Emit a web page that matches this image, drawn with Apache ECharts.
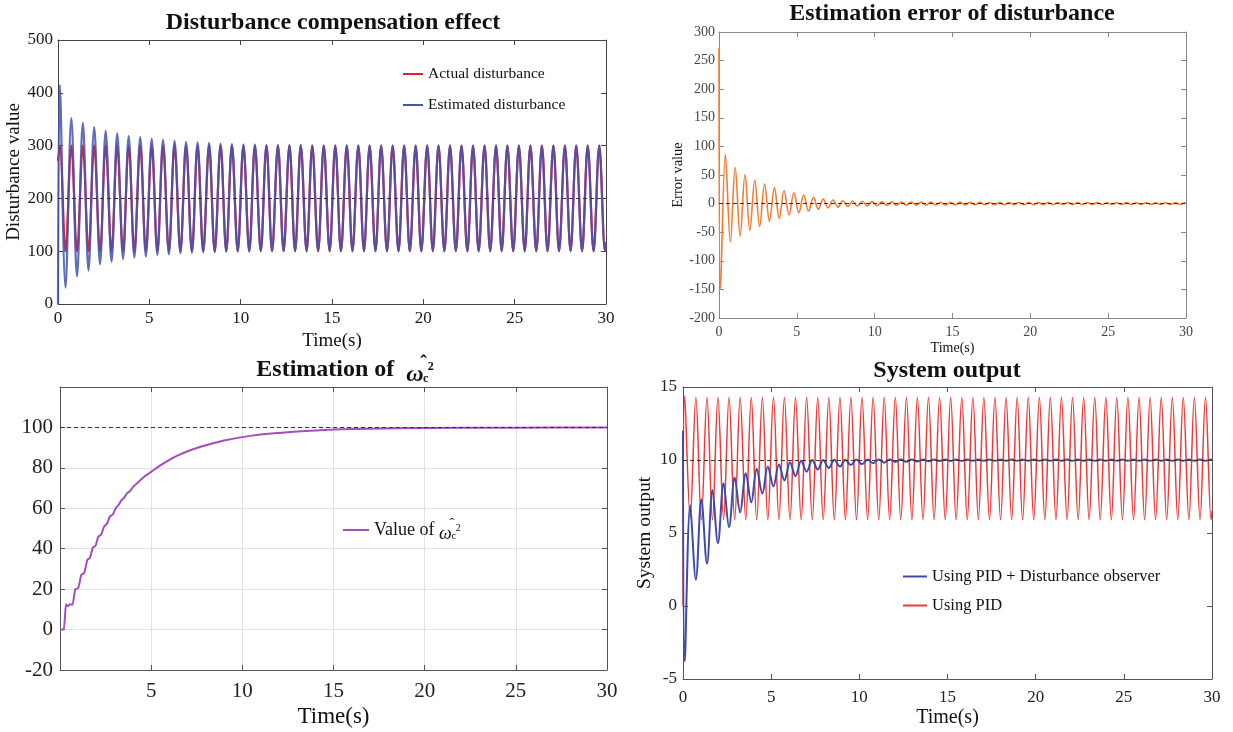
<!DOCTYPE html>
<html>
<head>
<meta charset="utf-8">
<title>Disturbance observer results</title>
<script src="https://cdn.jsdelivr.net/npm/echarts@6/dist/echarts.min.js"></script>
<style>
html, body { margin: 0; padding: 0; background: #fff; }
#main { width: 1233px; height: 732px; }
</style>
</head>
<body>
<div id="main"></div>
<script>
// time (s) of each half-cycle extremum (period ~0.63 s)
var tExtrema = [
    0.10, 0.41, 0.73, 1.04, 1.36, 1.67, 1.98, 2.30, 2.61, 2.93,
    3.24, 3.56, 3.87, 4.18, 4.50, 4.81, 5.13, 5.44, 5.75, 6.07,
    6.38, 6.70, 7.01, 7.33, 7.64, 7.95, 8.27, 8.58, 8.90, 9.21,
    9.52, 9.84, 10.15, 10.47, 10.78, 11.10, 11.41, 11.72, 12.04, 12.35,
    12.67, 12.98, 13.29, 13.61, 13.92, 14.24, 14.55, 14.87, 15.18, 15.49,
    15.81, 16.12, 16.44, 16.75, 17.06, 17.38, 17.69, 18.01, 18.32, 18.64,
    18.95, 19.26, 19.58, 19.89, 20.21, 20.52, 20.83, 21.15, 21.46, 21.78,
    22.09, 22.41, 22.72, 23.03, 23.35, 23.66, 23.98, 24.29, 24.60, 24.92,
    25.23, 25.55, 25.86, 26.18, 26.49, 26.80, 27.12, 27.43, 27.75, 28.06,
    28.37, 28.69, 29.00, 29.32, 29.63, 29.95
];

// Disturbance compensation effect (values at t=0, at each extremum, at t=30)
var actualDisturbance = [
    300, 100, 300, 100, 300, 100, 300, 100, 300, 100,
    300, 100, 300, 100, 300, 100, 300, 100, 300, 100,
    300, 100, 300, 100, 300, 100, 300, 100, 300, 100,
    300, 100, 300, 100, 300, 100, 300, 100, 300, 100,
    300, 100, 300, 100, 300, 100, 300, 100, 300, 100,
    300, 100, 300, 100, 300, 100, 300, 100, 300, 100,
    300, 100, 300, 100, 300, 100, 300, 100, 300, 100,
    300, 100, 300, 100, 300, 100, 300, 100, 300, 100,
    300, 100, 300, 100, 300, 100, 300, 100, 300, 100,
    300, 100, 300, 100, 300, 100
];
var estimatedDisturbance = [
    415, 31, 352, 52, 343, 63, 335, 75, 328, 80,
    323, 85, 318, 88, 316, 90, 313, 93, 311, 94,
    309, 96, 307, 97, 306, 98, 305, 98, 304, 99,
    303, 99, 302, 99, 302, 100, 301, 100, 301, 100,
    301, 100, 301, 100, 300, 100, 300, 100, 300, 100,
    300, 100, 300, 100, 300, 100, 300, 100, 300, 100,
    300, 100, 300, 100, 300, 100, 300, 100, 300, 100,
    300, 100, 300, 100, 300, 100, 300, 100, 300, 100,
    300, 100, 300, 100, 300, 100, 300, 100, 300, 100,
    300, 100, 300, 100, 300, 100
];
var disturbanceStart = [270, 0];
var disturbanceEnd = [115, 118];

// Estimation error of disturbance
var errorValues = [
    -150, 86, -67, 63, -57, 51, -47, 41, -40, 34,
    -31, 28, -26, 23, -20, 19, -16, 15, -13, 11,
    -10, 8, -7.5, 6.4, -6.4, 5, -5, 4.5, -4.5, 4,
    -4, 3.5, -3.5, 3, -3, 3, -3, 2.8, -2.8, 2.6,
    -2.6, 2.5, -2.5, 2.5, -2.5, 2.4, -2.4, 2.3, -2.3, 2.2,
    -2.2, 2.2, -2.2, 2.1, -2.1, 2, -2, 2, -2, 2,
    -2, 2, -2, 1.9, -1.9, 1.9, -1.9, 1.8, -1.8, 1.8,
    -1.8, 1.8, -1.8, 1.7, -1.7, 1.7, -1.7, 1.7, -1.7, 1.6,
    -1.6, 1.6, -1.6, 1.6, -1.6, 1.5, -1.5, 1.5, -1.5, 1.5,
    -1.5, 1.5, -1.5, 1.5, -1.5, 1.5
];
var errorStart = 272;
var errorEnd = 1;

// Estimation of omega_c^2
var omegaTime = [
    0, 0.2, 0.33, 0.42, 0.55, 0.68, 0.84, 1.0, 1.17, 1.33,
    1.5, 1.64, 1.8, 1.95, 2.1, 2.26, 2.42, 2.58, 2.74, 2.9,
    3.05, 3.2, 3.37, 3.52, 3.68, 3.84, 4.0, 4.3, 4.6, 5.0,
    5.5, 6.0, 6.5, 7.0, 7.5, 8.0, 8.5, 9.0, 10, 11,
    12, 13, 14, 15, 17, 20, 25, 30
];
var omegaValue = [
    0, 0, 12.5, 11.5, 12.5, 12.3, 20, 20.5, 27, 28,
    34.5, 35.5, 40.5, 41.5, 46, 47, 51, 52.5, 56, 57,
    60, 61.5, 64, 65.2, 67.5, 68.5, 70.5, 73, 75.5, 78,
    81.2, 84, 86.3, 88.2, 89.8, 91.2, 92.4, 93.5, 95.2, 96.5,
    97.3, 98, 98.5, 99, 99.4, 99.7, 99.9, 100
];

// System output
var outputDob = [
    -3.8, 6.9, 1.8, 7.3, 2.9, 7.95, 4.3, 8.4, 5.4, 8.8,
    6.4, 9.1, 7.1, 9.4, 7.7, 9.55, 8.2, 9.7, 8.6, 9.85,
    8.9, 9.95, 9.2, 10.0, 9.35, 10.0, 9.45, 10.02, 9.55, 10.02,
    9.65, 10.03, 9.72, 10.03, 9.78, 10.03, 9.82, 10.03, 9.86, 10.03,
    9.88, 10.03, 9.9, 10.03, 9.92, 10.03, 9.93, 10.03, 9.94, 10.04,
    9.94, 10.04, 9.95, 10.04, 9.95, 10.04, 9.95, 10.04, 9.95, 10.04,
    9.95, 10.04, 9.95, 10.04, 9.95, 10.04, 9.95, 10.04, 9.95, 10.04,
    9.95, 10.04, 9.95, 10.04, 9.95, 10.04, 9.95, 10.04, 9.95, 10.04,
    9.95, 10.04, 9.95, 10.04, 9.95, 10.04, 9.95, 10.04, 9.95, 10.04,
    9.95, 10.04, 9.95, 10.04, 9.95, 10.04
];
var outputPid = [
    14.4, 6.0, 14.3, 5.9, 14.3, 5.9, 14.3, 5.9, 14.3, 5.9,
    14.3, 5.9, 14.3, 5.9, 14.3, 5.9, 14.3, 5.9, 14.3, 5.9,
    14.3, 5.9, 14.3, 5.9, 14.3, 5.9, 14.3, 5.9, 14.3, 5.9,
    14.3, 5.9, 14.3, 5.9, 14.3, 5.9, 14.3, 5.9, 14.3, 5.9,
    14.3, 5.9, 14.3, 5.9, 14.3, 5.9, 14.3, 5.9, 14.3, 5.9,
    14.3, 5.9, 14.3, 5.9, 14.3, 5.9, 14.3, 5.9, 14.3, 5.9,
    14.3, 5.9, 14.3, 5.9, 14.3, 5.9, 14.3, 5.9, 14.3, 5.9,
    14.3, 5.9, 14.3, 5.9, 14.3, 5.9, 14.3, 5.9, 14.3, 5.9,
    14.3, 5.9, 14.3, 5.9, 14.3, 5.9, 14.3, 5.9, 14.3, 5.9,
    14.3, 5.9, 14.3, 5.9, 14.3, 5.9
];
var outputStart = [12, 0];
var outputEnd = [10.0, 6.5];

var FONT = '"Liberation Serif", "Times New Roman", serif';

// pair a value list with the extremum times, plus the two end points
function toPoints(startVal, values, endVal) {
    var pts = [[0, startVal]];
    for (var i = 0; i < values.length; i++) {
        pts.push([tExtrema[i], values[i]]);
    }
    pts.push([30, endVal]);
    return pts;
}

function zip(xs, ys) {
    var pts = [];
    for (var i = 0; i < xs.length; i++) pts.push([xs[i], ys[i]]);
    return pts;
}

// bottom/left axis with labels plus a mirrored top/right axis (box + inner ticks)
function axisPair(dim, grid, min, max, interval, o) {
    var main = {
        type: 'value', gridIndex: grid, min: min, max: max, interval: interval,
        position: dim == 'x' ? 'bottom' : 'left',
        axisLine: { show: true, onZero: false, lineStyle: { color: o.line, width: 1 } },
        axisTick: { show: true, inside: true, length: 5, lineStyle: { color: o.line } },
        axisLabel: {
            fontFamily: FONT, fontSize: o.fs, color: o.label, margin: o.margin,
            showMinLabel: o.showMin !== false, showMaxLabel: o.showMax !== false
        },
        splitLine: { show: !!o.split, lineStyle: { color: '#e2e2e2', width: 1 } }
    };
    if (o.name) {
        main.name = o.name;
        main.nameLocation = 'middle';
        main.nameGap = o.nameGap;
        main.nameTextStyle = { fontFamily: FONT, fontSize: o.nameFs, color: '#111' };
    }
    var mirror = {
        type: 'value', gridIndex: grid, min: min, max: max, interval: interval,
        position: dim == 'x' ? 'top' : 'right',
        axisLine: { show: true, onZero: false, lineStyle: { color: o.line, width: 1 } },
        axisTick: { show: true, inside: true, length: 5, lineStyle: { color: o.line } },
        axisLabel: { show: false },
        splitLine: { show: false }
    };
    return [main, mirror];
}

function dashed(value) {
    return {
        silent: true, symbol: 'none', animation: false,
        label: { show: false },
        lineStyle: { type: [4, 3], color: '#333', width: 1 },
        data: [{ yAxis: value }]
    };
}

var xAxes = [].concat(
    axisPair('x', 0, 0, 30, 5, { line: '#444', fs: 17, label: '#1a1a1a', margin: 6, name: 'Time(s)', nameGap: 28, nameFs: 19 }),
    axisPair('x', 1, 0, 30, 5, { line: '#888', fs: 14, label: '#444', margin: 7, name: 'Time(s)', nameGap: 23, nameFs: 14 }),
    axisPair('x', 2, 0, 30, 5, { line: '#555', fs: 21, label: '#222', margin: 11, showMin: false, split: true, name: 'Time(s)', nameGap: 35, nameFs: 23 }),
    axisPair('x', 3, 0, 30, 5, { line: '#555', fs: 17, label: '#222', margin: 10, name: 'Time(s)', nameGap: 29, nameFs: 20 })
);
var yAxes = [].concat(
    axisPair('y', 0, 0, 500, 100, { line: '#444', fs: 17, label: '#1a1a1a', margin: 5, name: 'Disturbance value', nameGap: 30, nameFs: 19 }),
    axisPair('y', 1, -200, 300, 50, { line: '#888', fs: 14, label: '#444', margin: 4, name: 'Error value', nameGap: 31, nameFs: 14.5 }),
    axisPair('y', 2, -20, 120, 20, { line: '#555', fs: 21, label: '#222', margin: 7, showMax: false, split: true }),
    axisPair('y', 3, -5, 15, 5, { line: '#555', fs: 17, label: '#222', margin: 6, name: 'System output', nameGap: 28, nameFs: 19.5 })
);

var titleStyle = { fontFamily: FONT, fontSize: 24, fontWeight: 'bold', color: '#111' };
var titleRich = {
    w: { fontFamily: FONT, fontSize: 24, fontStyle: 'italic', fontWeight: 'bold', color: '#111', lineHeight: 34, verticalAlign: 'bottom' },
    h: { fontFamily: FONT, fontSize: 20, fontWeight: 'bold', color: '#111', width: 0, align: 'right', verticalAlign: 'top', padding: [2, 0, 0, 0] },
    b: { fontFamily: FONT, fontSize: 12, fontWeight: 'bold', color: '#111', width: 0, verticalAlign: 'bottom', padding: [0, 0, 2, 2] },
    p: { fontFamily: FONT, fontSize: 12, fontWeight: 'bold', color: '#111', verticalAlign: 'middle', padding: [0, 0, 6, 2] }
};
var legendRich = {
    w: { fontFamily: FONT, fontSize: 18, fontStyle: 'italic', color: '#111', lineHeight: 26, verticalAlign: 'bottom' },
    h: { fontFamily: FONT, fontSize: 15, color: '#111', width: 0, align: 'right', verticalAlign: 'top' },
    b: { fontFamily: FONT, fontSize: 10, color: '#111', width: 0, verticalAlign: 'bottom', padding: [0, 0, 2, 2] },
    p: { fontFamily: FONT, fontSize: 10, color: '#111', verticalAlign: 'middle', padding: [0, 0, 4, 2] }
};

var option = {
    animation: false,
    backgroundColor: '#fff',
    title: [
        { text: 'Disturbance compensation effect', left: 333, top: 11, padding: 0, textAlign: 'center', textStyle: titleStyle },
        { text: 'Estimation error of disturbance', left: 952, top: 2, padding: 0, textAlign: 'center', textStyle: titleStyle },
        {
            text: 'Estimation of  {w|ω}{h|ˆ}{b|c}{p|2}', left: 345, top: 353, padding: 0, textAlign: 'center',
            textStyle: Object.assign({ rich: titleRich }, titleStyle)
        },
        { text: 'System output', left: 947, top: 359, padding: 0, textAlign: 'center', textStyle: titleStyle }
    ],
    grid: [
        { left: 58, top: 40, width: 548, height: 264 },
        { left: 719, top: 32, width: 467, height: 286 },
        { left: 60, top: 387, width: 547, height: 283 },
        { left: 683, top: 387, width: 529, height: 292 }
    ],
    xAxis: xAxes,
    yAxis: yAxes,
    legend: [
        {
            left: 403, top: 66, padding: 0, orient: 'vertical', itemGap: 15, itemWidth: 20, itemHeight: 2, icon: 'rect',
            data: ['Actual disturbance', 'Estimated disturbance'],
            textStyle: { fontFamily: FONT, fontSize: 15.5, color: '#111' }
        },
        {
            left: 343, top: 517, padding: 0, itemWidth: 26, itemHeight: 2, icon: 'rect',
            data: ['omega'],
            formatter: function () { return 'Value of {w|ω}{h|ˆ}{b|c}{p|2}'; },
            textStyle: { fontFamily: FONT, fontSize: 18, color: '#111', rich: legendRich }
        },
        {
            left: 903, top: 568, padding: 0, orient: 'vertical', itemGap: 12, itemWidth: 24, itemHeight: 2, icon: 'rect',
            data: ['Using PID + Disturbance observer', 'Using PID'],
            textStyle: { fontFamily: FONT, fontSize: 16.5, color: '#111' }
        }
    ],
    series: [
        {
            name: 'Actual disturbance', type: 'line', xAxisIndex: 0, yAxisIndex: 0,
            data: toPoints(disturbanceStart[0], actualDisturbance, disturbanceEnd[0]),
            showSymbol: false, symbol: 'none', smooth: 0.36,
            color: '#e3212b', lineStyle: { width: 2.2, color: '#e3212b' }
        },
        {
            name: 'Estimated disturbance', type: 'line', xAxisIndex: 0, yAxisIndex: 0,
            data: toPoints(disturbanceStart[1], estimatedDisturbance, disturbanceEnd[1]),
            showSymbol: false, symbol: 'none', smooth: 0.36,
            color: '#4453b4', lineStyle: { width: 2.2, color: '#4453b4', opacity: 0.85 },
            markLine: dashed(200)
        },
        {
            name: 'Disturbance error', type: 'line', xAxisIndex: 2, yAxisIndex: 2,
            data: toPoints(errorStart, errorValues, errorEnd),
            showSymbol: false, symbol: 'none', smooth: 0.36,
            color: '#f47c32', lineStyle: { width: 1.6, color: '#f47c32' },
            markLine: dashed(0)
        },
        {
            name: 'omega', type: 'line', xAxisIndex: 4, yAxisIndex: 4,
            data: zip(omegaTime, omegaValue),
            showSymbol: false, symbol: 'none', smooth: 0.2,
            color: '#a24fbd', lineStyle: { width: 2, color: '#a24fbd' },
            markLine: dashed(100)
        },
        {
            name: 'Using PID', type: 'line', xAxisIndex: 6, yAxisIndex: 6,
            data: toPoints(outputStart[1], outputPid, outputEnd[1]),
            showSymbol: false, symbol: 'none', smooth: 0.36,
            color: '#f03a3a', lineStyle: { width: 1.5, color: '#f03a3a' }
        },
        {
            name: 'Using PID + Disturbance observer', type: 'line', xAxisIndex: 6, yAxisIndex: 6,
            data: toPoints(outputStart[0], outputDob, outputEnd[0]),
            showSymbol: false, symbol: 'none', smooth: 0.36,
            color: '#3e4ca8', lineStyle: { width: 2, color: '#3e4ca8' },
            markLine: dashed(10)
        }
    ]
};

var chart = echarts.init(document.getElementById('main'));
chart.setOption(option);
</script>
</body>
</html>
